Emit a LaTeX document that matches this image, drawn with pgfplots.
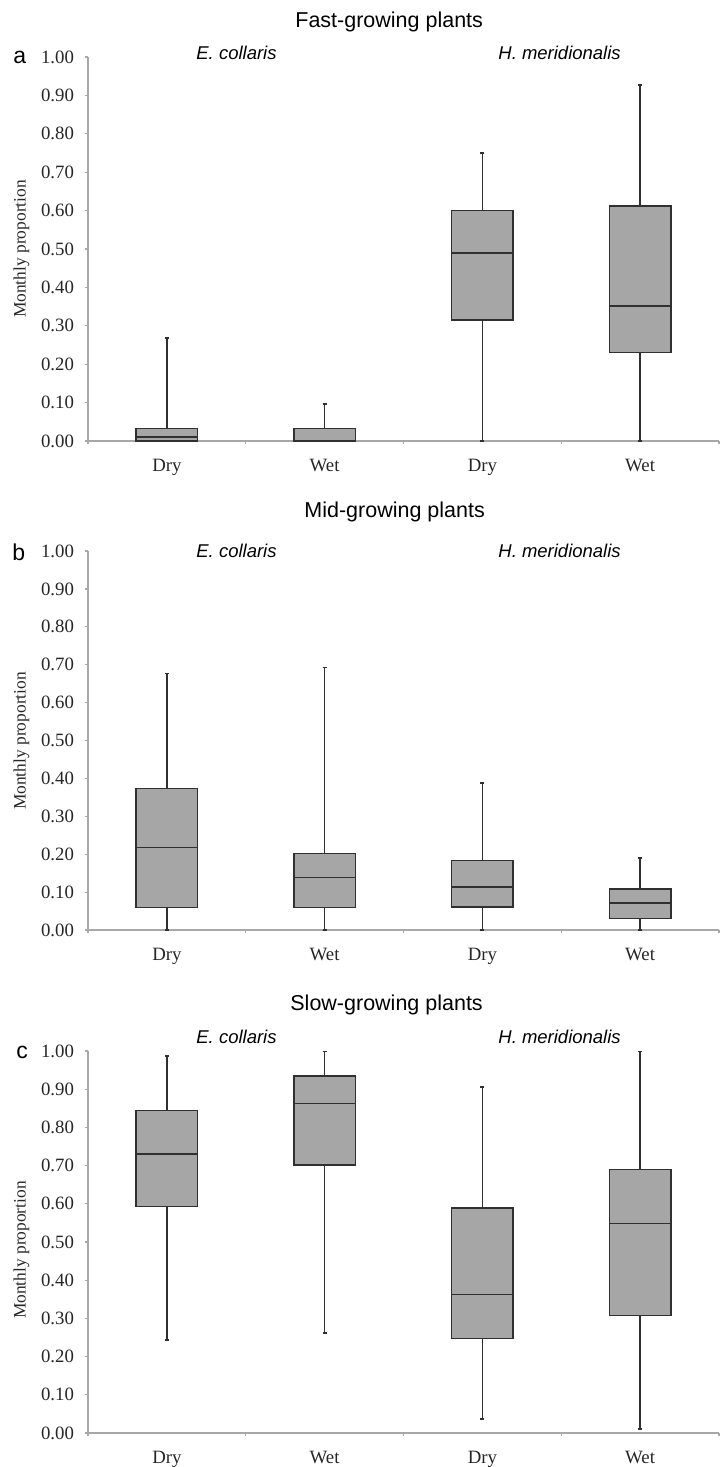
\documentclass[border=0pt]{standalone}
\usepackage{fontspec}
\setmainfont{Liberation Serif}
\newfontfamily\arial{Liberation Sans}
\usepackage{pgfplots}
\pgfplotsset{compat=1.18}
\usepgfplotslibrary{statistics}
\definecolor{boxfill}{HTML}{A6A6A6}
\definecolor{boxedge}{HTML}{303030}
\definecolor{axisgray}{HTML}{A8A8A8}
\pgfplotsset{
 panel/.style={anchor=south west, scale only axis, width=315.5pt,
   xmin=0, xmax=4, ymin=0, ymax=1, clip=false,
   axis lines*=left,
   axis line style={draw=axisgray, line width=0.6pt},
   ytick={0,0.1,0.2,0.3,0.4,0.5,0.6,0.7,0.8,0.9,1},
   yticklabel style={xshift=-2pt, /pgf/number format/.cd, fixed, fixed zerofill, precision=2},
   xticklabel style={yshift=-4pt},
   /pgf/number format/assume math mode=true,
   xtick={0.5,1.5,2.5,3.5}, xticklabels={Dry,Wet,Dry,Wet},
   major x tick style={draw=none},
   minor xtick={0,1,2,3,4},
   tick style={draw=axisgray, line width=0.6pt},
   tick align=outside, major tick length=1.5pt, minor tick length=1.5pt,
   ticklabel style={font=\fontsize{9.4}{11}\selectfont, text=black!85},
   boxplot/draw direction=y,
 },
 bp/.style={draw=boxedge, fill=boxfill, line width=0.7pt, solid,
   boxplot/draw direction=y,
   boxplot/box extend=0.39, boxplot/whisker extend=0.025},
}
\newcommand{\ttl}{\arial\fontsize{10.75}{12}\selectfont}
\newcommand{\spc}{\arial\itshape\fontsize{9.25}{11}\selectfont}
\newcommand{\letter}{\arial\fontsize{11.5}{13}\selectfont}
\newcommand{\ylab}{\fontsize{8.7}{10}\selectfont}
\begin{document}
\begin{tikzpicture}
\useasboundingbox (0,0) rectangle (360pt,-733.5pt);
% ---------- panel a
\begin{axis}[panel, at={(44pt,-220.5pt)}, height=192pt]
\addplot[bp, boxplot prepared={draw position=0.5, lower whisker=0, lower quartile=0, median=0.01, upper quartile=0.033, upper whisker=0.268}] coordinates {};
\addplot[bp, boxplot prepared={draw position=1.5, lower whisker=0, lower quartile=0, median=0.0, upper quartile=0.033, upper whisker=0.096}] coordinates {};
\addplot[bp, boxplot prepared={draw position=2.5, lower whisker=0, lower quartile=0.315, median=0.49, upper quartile=0.60, upper whisker=0.75}] coordinates {};
\addplot[bp, boxplot prepared={draw position=3.5, lower whisker=0, lower quartile=0.231, median=0.352, upper quartile=0.612, upper whisker=0.927}] coordinates {};
\end{axis}
% ---------- panel b
\begin{axis}[panel, at={(44pt,-465pt)}, height=189.5pt]
\addplot[bp, boxplot prepared={draw position=0.5, lower whisker=0, lower quartile=0.06, median=0.218, upper quartile=0.373, upper whisker=0.677}] coordinates {};
\addplot[bp, boxplot prepared={draw position=1.5, lower whisker=0, lower quartile=0.06, median=0.139, upper quartile=0.202, upper whisker=0.692}] coordinates {};
\addplot[bp, boxplot prepared={draw position=2.5, lower whisker=0, lower quartile=0.061, median=0.113, upper quartile=0.183, upper whisker=0.388}] coordinates {};
\addplot[bp, boxplot prepared={draw position=3.5, lower whisker=0, lower quartile=0.031, median=0.071, upper quartile=0.108, upper whisker=0.19}] coordinates {};
\end{axis}
% ---------- panel c
\begin{axis}[panel, at={(44pt,-716.5pt)}, height=191pt]
\addplot[bp, boxplot prepared={draw position=0.5, lower whisker=0.244, lower quartile=0.593, median=0.73, upper quartile=0.844, upper whisker=0.987}] coordinates {};
\addplot[bp, boxplot prepared={draw position=1.5, lower whisker=0.262, lower quartile=0.702, median=0.863, upper quartile=0.935, upper whisker=0.998}] coordinates {};
\addplot[bp, boxplot prepared={draw position=2.5, lower whisker=0.037, lower quartile=0.247, median=0.362, upper quartile=0.589, upper whisker=0.906}] coordinates {};
\addplot[bp, boxplot prepared={draw position=3.5, lower whisker=0.011, lower quartile=0.308, median=0.548, upper quartile=0.69, upper whisker=0.998}] coordinates {};
\end{axis}
% ---------- texts
\node[anchor=base west, inner sep=0pt, font=\ttl] at (147.5pt,-13.5pt) {Fast-growing plants};
\node[anchor=base west, inner sep=0pt, font=\ttl] at (152pt,-258.5pt) {Mid-growing plants};
\node[anchor=base west, inner sep=0pt, font=\ttl] at (145pt,-505pt) {Slow-growing plants};
\foreach \yy in {-29.5,-278.5,-521.5}{
 \node[anchor=base west, inner sep=0pt, font=\spc] at (98pt,\yy pt) {E. collaris};
 \node[anchor=base west, inner sep=0pt, font=\spc] at (249pt,\yy pt) {H. meridionalis};
}
\node[anchor=base west, inner sep=0pt, font=\letter] at (6.5pt,-31.5pt) {a};
\node[anchor=base west, inner sep=0pt, font=\letter] at (6pt,-280pt) {b};
\node[anchor=base west, inner sep=0pt, font=\letter] at (8pt,-529pt) {c};
\foreach \yy in {-124.5,-370.5,-625}{
 \node[anchor=base, rotate=90, inner sep=0pt, font=\ylab, text=black!85] at (12.75pt,\yy pt) {Monthly proportion};
}
\end{tikzpicture}
\end{document}
